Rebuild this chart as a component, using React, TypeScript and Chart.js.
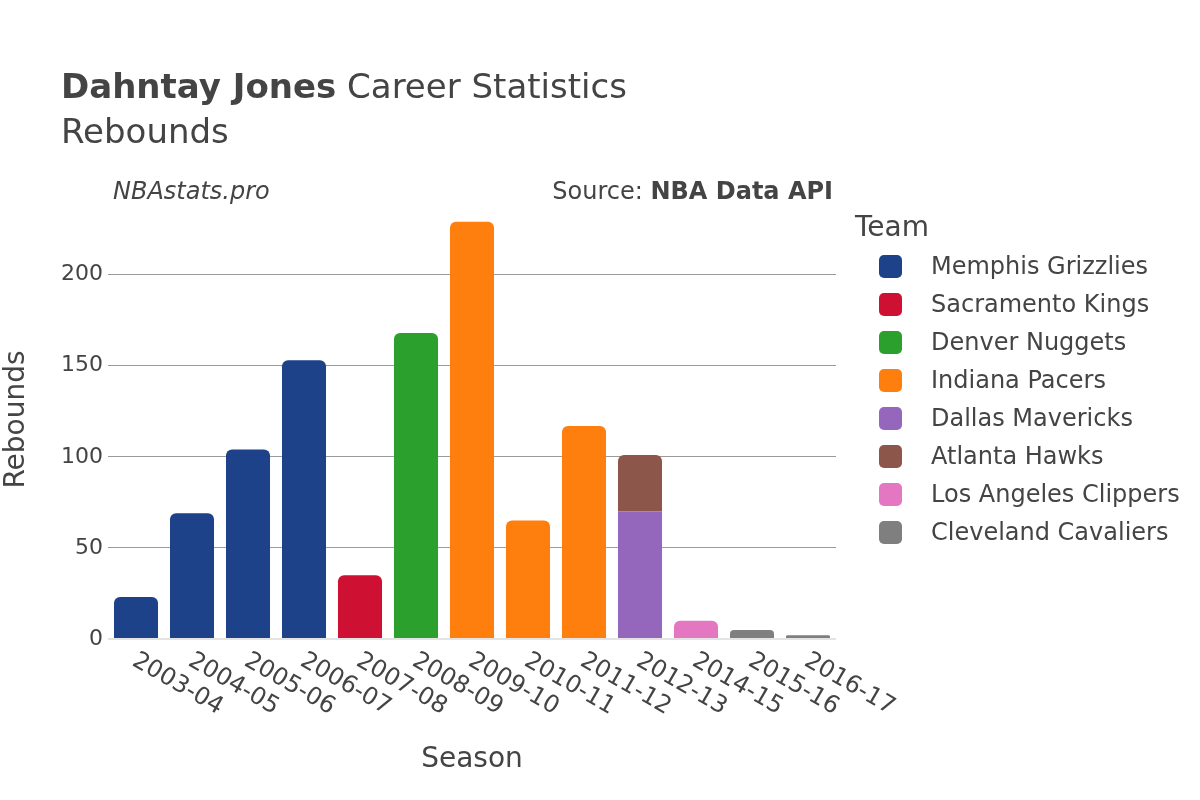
import React, { useEffect, useRef } from "react";
import { Chart, registerables } from "chart.js";

Chart.register(...registerables);

const seasons = [
  "2003-04", "2004-05", "2005-06", "2006-07", "2007-08", "2008-09", "2009-10",
  "2010-11", "2011-12", "2012-13", "2014-15", "2015-16", "2016-17",
];

const teams = [
  "Memphis Grizzlies",
  "Sacramento Kings",
  "Denver Nuggets",
  "Indiana Pacers",
  "Dallas Mavericks",
  "Atlanta Hawks",
  "Los Angeles Clippers",
  "Cleveland Cavaliers",
];

const teamColors = [
  "#1d428a", "#ce1132", "#2ca02c", "#ff7f0e", "#9467bd", "#8c564b", "#e377c2", "#7f7f7f",
];

const memphis = [23, 69, 104, 153, null, null, null, null, null, null, null, null, null];
const sacramento = [null, null, null, null, 35, null, null, null, null, null, null, null, null];
const denver = [null, null, null, null, null, 168, null, null, null, null, null, null, null];
const indiana = [null, null, null, null, null, null, 229, 65, 117, null, null, null, null];
const dallas = [null, null, null, null, null, null, null, null, null, 70, null, null, null];
const atlanta = [null, null, null, null, null, null, null, null, null, 31, null, null, null];
const clippers = [null, null, null, null, null, null, null, null, null, null, 10, null, null];
const cleveland = [null, null, null, null, null, null, null, null, null, null, null, 5, 2];

const seriesValues = [memphis, sacramento, denver, indiana, dallas, atlanta, clippers, cleveland];

const yTicks = [0, 50, 100, 150, 200];

const FONT = "'DejaVu Sans', sans-serif";
const TEXT = "#444444";

const xLabelPlugin = {
  id: "xLabelPlugin",
  afterDraw(chart: any) {
    const ctx = chart.ctx;
    const xs = chart.scales.x;
    ctx.save();
    ctx.font = `24px ${FONT}`;
    ctx.fillStyle = TEXT;
    ctx.textAlign = "left";
    ctx.textBaseline = "middle";
    seasons.forEach((lab, i) => {
      const x = xs.getPixelForTick(i);
      ctx.save();
      ctx.translate(x - 2, chart.chartArea.bottom + 20);
      ctx.rotate((30 * Math.PI) / 180);
      ctx.fillText(lab, 0, 0);
      ctx.restore();
    });
    ctx.restore();
  },
};

export default function App() {
  const ref = useRef<HTMLCanvasElement | null>(null);

  useEffect(() => {
    if (!ref.current) return;
    const datasets = teams.map((t, i) => ({
      label: t,
      data: seriesValues[i],
      backgroundColor: teamColors[i],
      borderWidth: 0,
      borderRadius: (c: any) => {
        const j = c.dataIndex;
        for (let k = i + 1; k < seriesValues.length; k++) {
          const v = seriesValues[k][j];
          if (v !== null && v !== undefined && v > 0) return 0;
        }
        return { topLeft: 6, topRight: 6, bottomLeft: 0, bottomRight: 0 };
      },
      borderSkipped: "start" as const,
      categoryPercentage: 1,
      barPercentage: 0.786,
    }));

    const chart = new Chart(ref.current, {
      type: "bar",
      data: { labels: seasons, datasets },
      plugins: [xLabelPlugin],
      options: {
        animation: false,
        responsive: false,
        maintainAspectRatio: false,
        layout: { padding: { left: 0, right: 364, top: 200, bottom: 0 } },
        plugins: {
          legend: { display: false },
          title: { display: false },
          tooltip: { enabled: false },
        },
        scales: {
          x: {
            stacked: true,
            grid: { display: false },
            border: { display: false },
            ticks: { display: false },
            title: {
              display: true,
              text: "Season",
              color: TEXT,
              font: { family: FONT, size: 28 },
              padding: { top: 0, bottom: 23 },
            },
            afterFit: (s: any) => {
              s.height = 161;
            },
          },
          y: {
            stacked: true,
            min: 0,
            max: 241,
            afterBuildTicks: (s: any) => {
              s.ticks = yTicks.map((v) => ({ value: v }));
            },
            ticks: {
              color: TEXT,
              font: { family: FONT, size: 22 },
              padding: 5,
            },
            grid: {
              color: (c: any) => (c.tick && c.tick.value === 0 ? "#e4e4e4" : "#9a9a9a"),
              lineWidth: (c: any) => (c.tick && c.tick.value === 0 ? 2 : 1),
              drawTicks: false,
            },
            border: { display: false },
            title: {
              display: true,
              text: "Rebounds",
              color: TEXT,
              font: { family: FONT, size: 28 },
              padding: { top: 0, bottom: 0 },
            },
            afterFit: (s: any) => {
              s.width = 108;
            },
          },
        },
      },
    });
    return () => chart.destroy();
  }, []);

  return (
    <div
      style={{
        position: "absolute",
        left: 0,
        top: 0,
        width: 1200,
        height: 800,
        background: "#ffffff",
        fontFamily: FONT,
        color: TEXT,
      }}
    >
      <canvas ref={ref} width={1200} height={800} style={{ position: "absolute", left: 0, top: 0 }} />
      <div style={{ position: "absolute", left: 61, top: 64, fontSize: 34, lineHeight: "45px", whiteSpace: "nowrap" }}>
        <b>Dahntay Jones</b> Career Statistics
        <br />
        Rebounds
      </div>
      <div style={{ position: "absolute", left: 113, top: 177, fontSize: 24, fontStyle: "italic", whiteSpace: "nowrap" }}>
        NBAstats.pro
      </div>
      <div style={{ position: "absolute", right: 1200 - 833, top: 177, fontSize: 24, whiteSpace: "nowrap" }}>
        Source: <b>NBA Data API</b>
      </div>
      <div style={{ position: "absolute", left: 855, top: 210, fontSize: 28, whiteSpace: "nowrap" }}>Team</div>
      {teams.map((t, i) => (
        <div key={t} style={{ position: "absolute", left: 879, top: 254 + i * 38, height: 24, display: "flex", alignItems: "center", whiteSpace: "nowrap" }}>
          <div style={{ width: 23, height: 23, borderRadius: 5, background: teamColors[i] }} />
          <span style={{ marginLeft: 29, fontSize: 24 }}>{t}</span>
        </div>
      ))}
    </div>
  );
}
